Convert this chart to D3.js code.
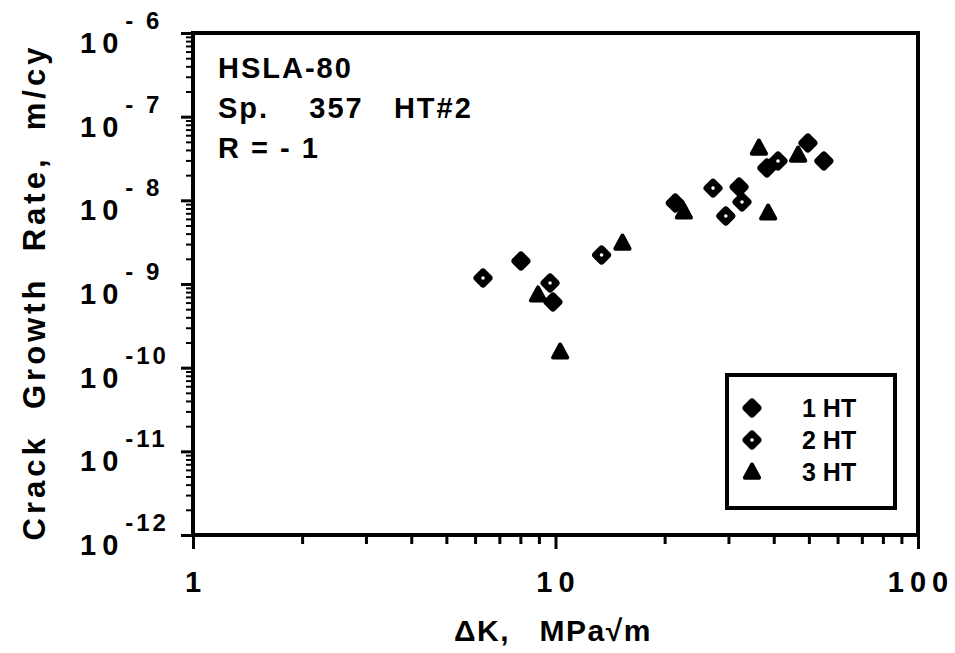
<!DOCTYPE html>
<html>
<head>
<meta charset="utf-8">
<script src="https://cdn.jsdelivr.net/npm/d3@7"></script>
<style>
  body { margin: 0; background: #fff; }
  svg { display: block; font-family: "Liberation Sans", Arial, Helvetica, sans-serif; }
</style>
</head>
<body>
<svg id="chart" width="955" height="653" viewBox="0 0 955 653"></svg>
<script>
// log-log crack growth plot, HSLA-80 specimen 357
const xTicks = [1, 10, 100];
const yExponents = [-12, -11, -10, -9, -8, -7, -6];

const series = ["1 HT", "2 HT", "3 HT"];
const ht1 = [[8.03, 1.88e-9], [9.84, 6.1e-10], [21.4, 9.3e-9], [32.1, 1.44e-8], [38.3, 2.43e-8], [49.7, 4.84e-8], [55.0, 2.95e-8]];
const ht2 = [[6.31, 1.18e-9], [9.66, 1.03e-9], [13.4, 2.22e-9], [27.2, 1.4e-8], [29.5, 6.5e-9], [32.7, 9.55e-9], [41.1, 2.95e-8]];
const ht3 = [[8.95, 7.4e-10], [10.3, 1.54e-10], [15.3, 3.09e-9], [22.6, 7.26e-9], [36.4, 4.22e-8], [38.6, 7.06e-9], [46.7, 3.48e-8]];

const notes = ["HSLA-80", "Sp.    357   HT#2", "R = - 1"];

(function () {
    if (typeof d3 === 'undefined') {
        console.error('D3.js not loaded');
        return;
    }

    const svg = d3.select("#chart");
    const margin = {top: 33, right: 37, bottom: 118, left: 193};
    const W = 955, H = 653;

    const x = d3.scaleLog().domain([1, 100]).range([margin.left, W - margin.right]);
    const y = d3.scaleLog().domain([1e-12, 1e-6]).range([H - margin.bottom, margin.top]);

    // minor ticks 2..9 in every decade
    const minorX = [];
    for (let d = 1; d < 100; d *= 10) for (let k = 2; k <= 9; k++) minorX.push(d * k);
    const minorY = [];
    yExponents.slice(0, -1).forEach(e => { for (let k = 2; k <= 9; k++) minorY.push(k * Math.pow(10, e)); });

    const frame = svg.append("g");
    frame.append("rect")
        .attr("x", x(1)).attr("y", y(1e-6))
        .attr("width", x(100) - x(1)).attr("height", y(1e-12) - y(1e-6))
        .attr("fill", "none").attr("stroke", "#000").attr("stroke-width", 4);

    const axStyle = g => {
        g.select(".domain").remove();
        g.selectAll(".tick line").attr("stroke", "#000").attr("stroke-width", 3);
        g.selectAll(".tick text").remove();
    };

    frame.append("g")
        .attr("transform", `translate(0,${y(1e-12)})`)
        .call(d3.axisBottom(x).tickValues(xTicks).tickSize(14))
        .call(axStyle);
    frame.append("g")
        .attr("transform", `translate(0,${y(1e-12)})`)
        .call(d3.axisBottom(x).tickValues(minorX).tickSize(9))
        .call(axStyle);
    frame.append("g")
        .attr("transform", `translate(${x(1)},0)`)
        .call(d3.axisLeft(y).tickValues(yExponents.map(e => Math.pow(10, e))).tickSize(12))
        .call(axStyle);
    frame.append("g")
        .attr("transform", `translate(${x(1)},0)`)
        .call(d3.axisLeft(y).tickValues(minorY).tickSize(7))
        .call(g => {
            axStyle(g);
            g.selectAll(".tick line").attr("stroke-width", 2);
        });

    // tick labels
    svg.append("g").selectAll("text")
        .data(xTicks)
        .join("text")
        .attr("x", d => x(d) + 3)
        .attr("y", 592)
        .attr("text-anchor", "middle")
        .style("font-size", "29px").style("font-weight", "bold")
        .style("letter-spacing", "6px")
        .text(d => d);

    const yl = svg.append("g").selectAll("text")
        .data(yExponents)
        .join("text")
        .attr("x", 80)
        .attr("y", e => y(Math.pow(10, e)) + 20)
        .attr("xml:space", "preserve")
        .style("font-size", "29px").style("font-weight", "bold");
    yl.append("tspan").style("letter-spacing", "6px").text("10");
    yl.append("tspan")
        .attr("dx", 1).attr("dy", -24)
        .style("font-size", "24px")
        .style("letter-spacing", "3px")
        .text(e => e <= -10 ? "-" + Math.abs(e) : "- " + Math.abs(e));

    // axis titles
    svg.append("text")
        .attr("x", 553).attr("y", 641)
        .attr("text-anchor", "middle")
        .style("font-size", "30px").style("font-weight", "bold")
        .style("letter-spacing", "1.5px")
        .attr("xml:space", "preserve")
        .text("\u0394K,   MPa\u221Am");

    svg.append("text")
        .attr("transform", "translate(45,292) rotate(-90)")
        .attr("text-anchor", "middle")
        .style("font-size", "31px").style("font-weight", "bold")
        .style("letter-spacing", "4px")
        .attr("xml:space", "preserve")
        .text("Crack  Growth  Rate,  m/cy");

    // specimen note
    svg.append("g").selectAll("text")
        .data(notes)
        .join("text")
        .attr("x", 218)
        .attr("y", (d, i) => 78 + i * 40)
        .attr("xml:space", "preserve")
        .style("font-size", "29px").style("font-weight", "bold")
        .style("letter-spacing", "2px")
        .text(d => d);

    // markers
    const diamond = r => `M0,${-r}L${r},0L0,${r}L${-r},0Z`;
    const triangle = r => `M0,${-r}L${r * 0.95},${r * 0.75}L${-r * 0.95},${r * 0.75}Z`;
    const drawMarker = (g, kind) => {
        if (kind === 2) {
            g.append("path").attr("d", triangle(7.5))
                .attr("fill", "#000").attr("stroke", "#000")
                .attr("stroke-width", 4).attr("stroke-linejoin", "round");
            return;
        }
        g.append("path").attr("d", diamond(6))
            .attr("fill", "#000").attr("stroke", "#000")
            .attr("stroke-width", 7).attr("stroke-linejoin", "round");
        if (kind === 1) g.append("circle").attr("r", 1.8).attr("fill", "#fff");
    };

    const plot = svg.append("g");
    [ht1, ht2, ht3].forEach((pts, k) => {
        plot.selectAll(".m" + k)
            .data(pts)
            .join("g")
            .attr("class", "m" + k)
            .attr("transform", d => `translate(${x(d[0])},${y(d[1])})`)
            .each(function () { drawMarker(d3.select(this), k); });
    });

    // legend
    const lg = svg.append("g");
    lg.append("rect")
        .attr("x", 727).attr("y", 375)
        .attr("width", 168).attr("height", 133)
        .attr("fill", "#fff").attr("stroke", "#000").attr("stroke-width", 4);
    const rows = lg.selectAll(".row")
        .data(series)
        .join("g")
        .attr("class", "row")
        .attr("transform", (d, i) => `translate(0,${408 + i * 32})`);
    rows.each(function (d, i) {
        const g = d3.select(this).append("g").attr("transform", "translate(752,0)");
        drawMarker(g, i);
    });
    rows.append("text")
        .attr("x", 802).attr("y", 9)
        .style("font-size", "25px").style("font-weight", "bold")
        .text(d => d);
})();
</script>
</body>
</html>
